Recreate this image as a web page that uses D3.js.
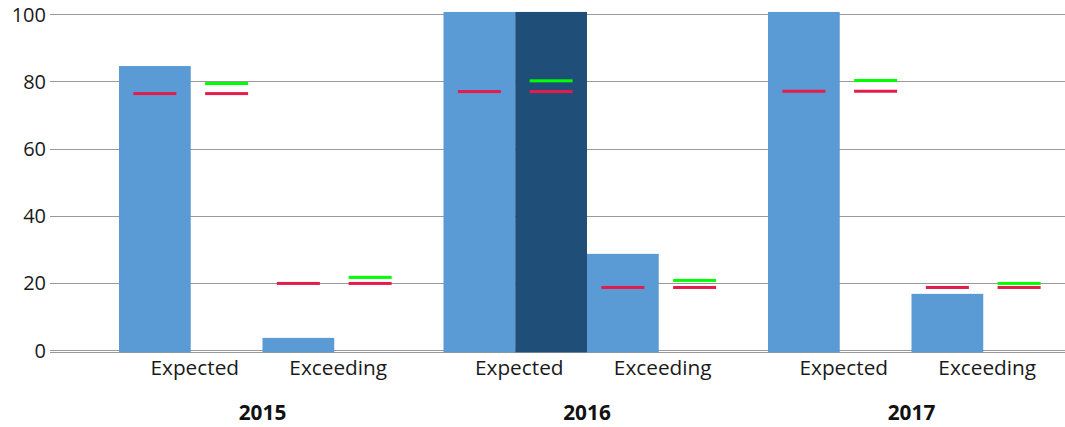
<!DOCTYPE html>
<html>
<head>
<meta charset="utf-8">
<script src="https://cdn.jsdelivr.net/npm/d3@7"></script>
<style>
  html, body { margin: 0; padding: 0; background: #fff; }
  svg { display: block; font-family: "Open Sans", sans-serif; }
</style>
</head>
<body>
<svg id="chart" width="1065" height="427"></svg>
<script>
// ---- data ----
const years = ["2015", "2016", "2017"];
const categories = ["Expected", "Exceeding"];
const yTicks = [0, 20, 40, 60, 80, 100];
// primary (light blue) bar values, per year: [Expected, Exceeding]
const lightValues = [[84.6, 3.7], [100.7, 28.7], [100.7, 16.8]];
// secondary (dark blue) bar values (null = no bar)
const darkValues = [[null, null], [100.7, null], [null, null]];
// red marker values (same for both slots)
const redValues = [[76.4, 19.9], [77.0, 18.7], [77.1, 18.7]];
// green marker values (second slot)
const greenValues = [[79.4, 21.7], [80.2, 20.8], [80.3, 19.9]];

const colors = { light: "#5b9bd5", dark: "#1f4e79", red: "#e31c4b", green: "#00ff00", grid: "#999999", text: "#1a1a1a" };

const svg = d3.select("#chart");
const W = 1065;

const y = d3.scaleLinear().domain([0, 100]).range([350.3, 14.3]);
const xYear = d3.scaleBand().domain(years).range([100.25, 1073.75]).paddingInner(0).paddingOuter(0);
const xCat = d3.scaleBand().domain(categories).range([18.75, xYear.bandwidth() - 18.75]);
const xSlot = d3.scaleBand().domain(["light", "dark"]).range([0, xCat.bandwidth()]);

const baseY = y(0) + 2;

// gridlines
const grid = svg.append("g");
grid.selectAll("line").data(yTicks).join("line")
  .attr("x1", 50).attr("x2", W)
  .attr("y1", d => Math.round(y(d)) + 0.5).attr("y2", d => Math.round(y(d)) + 0.5)
  .attr("stroke", colors.grid).attr("stroke-width", 1);
// baseline
svg.append("line").attr("x1", 50).attr("x2", W)
  .attr("y1", Math.round(baseY) + 0.5).attr("y2", Math.round(baseY) + 0.5)
  .attr("stroke", colors.grid).attr("stroke-width", 1);

// y tick labels
svg.append("g").selectAll("text").data(yTicks).join("text")
  .attr("x", 46).attr("y", d => y(d)).attr("dy", "0.36em")
  .attr("text-anchor", "end").attr("font-size", 20).attr("fill", colors.text)
  .text(d => d);

// build flat records
const recs = [];
years.forEach((yr, i) => categories.forEach((c, j) => {
  recs.push({ year: yr, cat: c, light: lightValues[i][j], dark: darkValues[i][j], red: redValues[i][j], green: greenValues[i][j] });
}));

const groups = svg.append("g").selectAll("g").data(recs).join("g")
  .attr("transform", d => `translate(${xYear(d.year) + xCat(d.cat)},0)`);

groups.append("rect")
  .attr("x", xSlot("light")).attr("width", xSlot.bandwidth())
  .attr("y", d => y(d.light)).attr("height", d => baseY - y(d.light))
  .attr("fill", colors.light);
groups.filter(d => d.dark != null).append("rect")
  .attr("x", xSlot("dark")).attr("width", xSlot.bandwidth())
  .attr("y", d => y(d.dark)).attr("height", d => baseY - y(d.dark))
  .attr("fill", colors.dark);

const mW = 43, mH = 3;
const slotC = s => xSlot(s) + xSlot.bandwidth() / 2;
groups.append("rect")
  .attr("x", slotC("light") - mW / 2).attr("width", mW)
  .attr("y", d => y(d.red) - mH / 2).attr("height", mH).attr("fill", colors.red);
groups.append("rect")
  .attr("x", slotC("dark") - mW / 2).attr("width", mW)
  .attr("y", d => y(d.red) - mH / 2).attr("height", mH).attr("fill", colors.red);
groups.append("rect")
  .attr("x", slotC("dark") - mW / 2).attr("width", mW)
  .attr("y", d => y(d.green) - mH / 2).attr("height", mH).attr("fill", colors.green);

// category labels
groups.append("text")
  .attr("x", xCat.bandwidth() / 2 + 4).attr("y", 374.5)
  .attr("text-anchor", "middle").attr("font-size", 20.8).attr("fill", colors.text)
  .text(d => d.cat);

// year labels
svg.append("g").selectAll("text").data(years).join("text")
  .attr("x", d => xYear(d) + xYear.bandwidth() / 2).attr("y", 420)
  .attr("text-anchor", "middle").attr("font-size", 20.8).attr("font-weight", "bold").attr("fill", "#111")
  .text(d => d);
</script>
</body>
</html>
